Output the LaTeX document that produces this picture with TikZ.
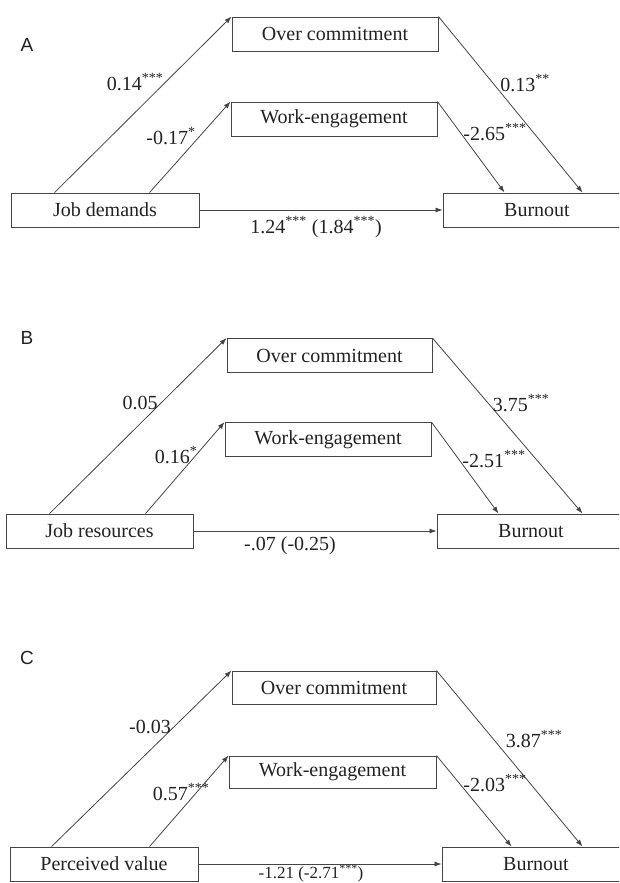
\documentclass[tikz,border=0pt]{standalone}
\usepackage{fontspec}
\setmainfont{Liberation Serif}
\newfontfamily\lettfont{Liberation Sans}
\usetikzlibrary{arrows.meta}
\definecolor{ink}{HTML}{222222}
\definecolor{edge}{HTML}{444444}
\tikzset{
  box/.style={draw=edge, line width=0.9pt, inner sep=0pt, minimum height=34pt, text=ink, font=\fontsize{20}{22}\selectfont},
  conn/.style={draw=edge, line width=0.8pt, -{Latex[length=7pt,width=5pt]}},
  lbl/.style={text=ink, inner sep=0pt, font=\fontsize{20}{22}\selectfont},
  panel/.style={text=ink, inner sep=0pt, font=\lettfont\fontsize{19}{21}\selectfont}
}
\newcommand{\st}[1]{\textsuperscript{#1}}
\begin{document}
\begin{tikzpicture}[x=1pt,y=-1pt]
\useasboundingbox (0,0) rectangle (619,883);
\clip (0,0) rectangle (619,883);
% ---------- Panel A ----------
\node[panel] (la) at (27,45) {A};
\node[box, minimum width=206pt] (ocA) at (335,34) {Over commitment};
\node[box, minimum width=206pt] (weA) at (334,119) {Work-engagement};
\node[box, minimum width=188pt] (jdA) at (105,210) {Job demands};
\node[box, minimum width=188pt] (buA) at (537,210) {Burnout};
\draw[conn] ([xshift=44pt]jdA.north west) -- (ocA.north west);
\draw[conn] ([xshift=139pt]jdA.north west) -- (weA.north west);
\draw[conn] (ocA.north east) -- ([xshift=140pt]buA.north west);
\draw[conn] (weA.north east) -- ([xshift=62pt]buA.north west);
\draw[conn] (jdA.east) -- (buA.west);
\node[lbl] (a1) at (135,82) {0.14\st{***}};
\node[lbl] (a2) at (171,136) {-0.17\st{*}};
\node[lbl] (a3) at (525,83) {0.13\st{**}};
\node[lbl] (a4) at (495,132) {-2.65\st{***}};
\node[lbl] (a5) at (316,227) {1.24\st{***} (1.84\st{***})};
% ---------- Panel B ----------
\node[panel] (lb) at (27,338) {B};
\node[box, minimum width=205pt] (ocB) at (329.5,355.5) {Over commitment};
\node[box, minimum width=206pt] (weB) at (328,439.5) {Work-engagement};
\node[box, minimum width=187pt] (jrB) at (99.5,531) {Job resources};
\node[box, minimum width=188pt] (buB) at (531,531) {Burnout};
\draw[conn] ([xshift=44pt]jrB.north west) -- (ocB.north west);
\draw[conn] ([xshift=140pt]jrB.north west) -- (weB.north west);
\draw[conn] (ocB.north east) -- ([xshift=146pt]buB.north west);
\draw[conn] (weB.north east) -- ([xshift=62pt]buB.north west);
\draw[conn] (jrB.east) -- (buB.west);
\node[lbl] (b1) at (140,403) {0.05};
\node[lbl] (b2) at (176,455) {0.16\st{*}};
\node[lbl] (b3) at (521,403) {3.75\st{***}};
\node[lbl] (b4) at (494,459) {-2.51\st{***}};
\node[lbl] (b5) at (290,546) {-.07 (-0.25)};
% ---------- Panel C ----------
\node[panel] (lc) at (27,658) {C};
\node[box, minimum width=204pt, minimum height=33pt] (ocC) at (334,687.5) {Over commitment};
\node[box, minimum width=207pt, minimum height=32pt] (weC) at (332.5,772) {Work-engagement};
\node[box, minimum width=188pt] (pvC) at (104,864) {Perceived value};
\node[box, minimum width=188pt] (buC) at (536,864) {Burnout};
\draw[conn] ([xshift=42pt]pvC.north west) -- (ocC.north west);
\draw[conn] ([xshift=140pt]pvC.north west) -- (weC.north west);
\draw[conn] (ocC.north east) -- ([xshift=141pt]buC.north west);
\draw[conn] (weC.north east) -- ([xshift=70pt]buC.north west);
\draw[conn] (pvC.east) -- (buC.west);
\node[lbl] (c1) at (150,727) {-0.03};
\node[lbl] (c2) at (181,792) {0.57\st{***}};
\node[lbl] (c3) at (534,739) {3.87\st{***}};
\node[lbl] (c4) at (495,783) {-2.03\st{***}};
\node[lbl, anchor=south, font=\fontsize{17}{19}\selectfont] (c5) at (311,882.5) {-1.21 (-2.71\st{***})};
\end{tikzpicture}
\end{document}
